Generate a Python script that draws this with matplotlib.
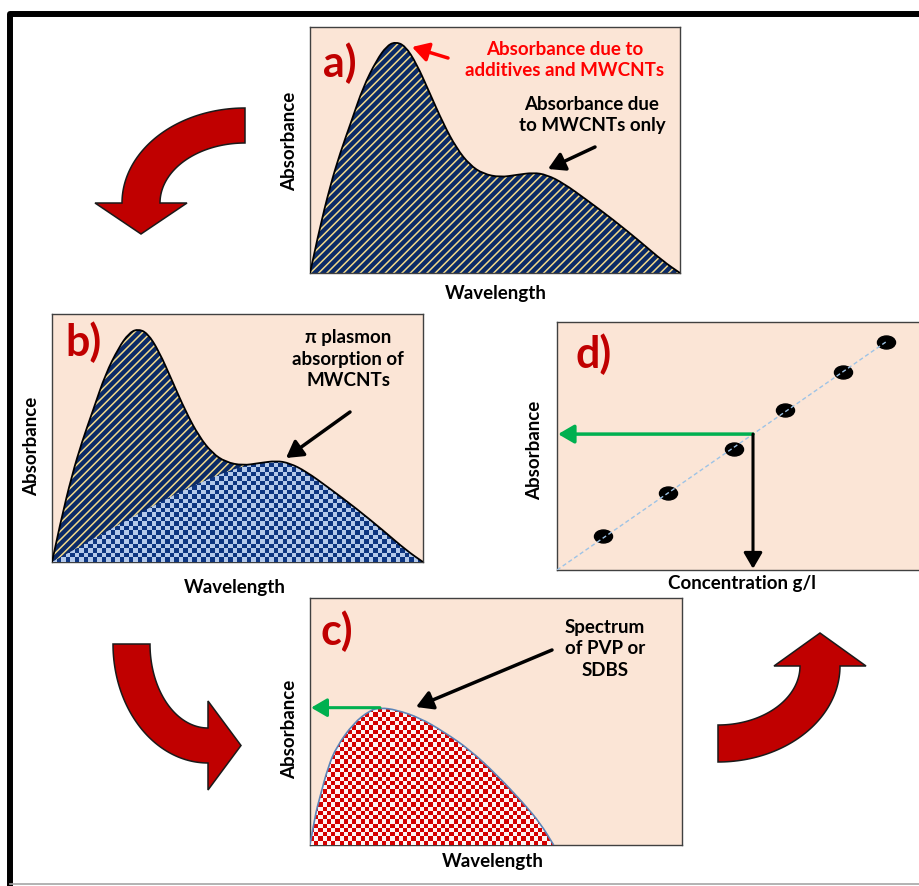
import numpy as np
import matplotlib
matplotlib.use('Agg')
import matplotlib.pyplot as plt
from matplotlib.colors import ListedColormap
from matplotlib.patches import Polygon, PathPatch
from matplotlib.path import Path

plt.rcParams['font.family'] = ['Lato', 'DejaVu Sans']
plt.rcParams['hatch.linewidth'] = 1.1

# spectrum of MWCNTs + additives (panels a, b)
wl_total = [0, 2.3, 5.4, 8.1, 11.3, 14.4, 18.0, 20.7, 23.0, 25.7, 28.8, 32.4, 36.0,
            39.6, 43.2, 46.8, 51.4, 55.9, 60.4, 64.0, 68.5, 74.8, 82.0, 89.2, 95.5, 100]
abs_total = [0, 16.2, 35.1, 48.6, 62.2, 75.7, 86.5, 92.2, 94.0, 92.4, 85.1, 73.0, 60.8,
             50.7, 43.9, 40.3, 38.9, 39.9, 40.8, 39.9, 36.5, 29.7, 21.6, 12.8, 4.7, 0]
# MWCNT-only part (panel b)
wl_cnt = [0, 13, 26.5, 40, 51, 55.9, 60.4, 64.0, 68.5, 74.8, 82.0, 89.2, 95.5, 100]
abs_cnt = [0, 10.8, 22.2, 32.3, 38.6, 39.9, 40.8, 39.9, 36.5, 29.7, 21.6, 12.8, 4.7, 0]
# additive spectrum (panel c)
wl_add = [0, 1.3, 2.7, 4.9, 7.2, 11.7, 16.1, 18.8, 23.3, 29.6, 35.9, 43.0, 50.2, 57.4, 61.9, 65.5]
abs_add = [0, 11.5, 19.6, 31.8, 39.9, 49.3, 54.5, 55.6, 54.7, 51.4, 45.9, 38.5, 28.4, 16.9, 8.8, 0]
# calibration (panel d)
conc = [12.7, 30.4, 48.6, 62.7, 78.7, 90.3]
abs_std = [13.7, 31.0, 48.8, 64.5, 79.8, 91.9]
sample_abs = 54.8

W, H = 919, 886
PEACH = '#FBE5D6'
NAVY = '#0B2A66'
DARKRED = '#C00000'
GREEN = '#00B050'

fig = plt.figure(figsize=(W / 100, H / 100), dpi=100)
bg = fig.add_axes([0, 0, 1, 1])
bg.set_xlim(0, W)
bg.set_ylim(H, 0)
bg.axis('off')

# outer frame
bg.plot([10, 10, 930], [895, 13.5, 13.5], color='k', lw=4.3, solid_joinstyle='round',
        solid_capstyle='butt')
bg.plot([10, 919], [884, 884], color='#a6a6a6', lw=1.2)


def panel(x0, y0, x1, y1):
    ax = fig.add_axes([x0 / W, 1 - y1 / H, (x1 - x0) / W, (y1 - y0) / H])
    ax.set_facecolor(PEACH)
    ax.set_xticks([])
    ax.set_yticks([])
    for s in ax.spines.values():
        s.set_color('#404040')
        s.set_linewidth(1)
    return ax


def smooth(x, y, closed=True):
    # quadratic spline through the read points, drawn by matplotlib's Path
    pts = np.column_stack([x, y]).astype(float)
    verts = [pts[0]]
    codes = [Path.MOVETO]
    for i in range(1, len(pts) - 1):
        verts += [pts[i], (pts[i] + pts[i + 1]) / 2]
        codes += [Path.CURVE3, Path.CURVE3]
    verts.append(pts[-1])
    codes.append(Path.LINETO)
    if closed:
        verts.append(pts[0])
        codes.append(Path.CLOSEPOLY)
    return Path(verts, codes)


def checker(ax, clip, cell, colors, z=3):
    bb = ax.get_position()
    nx = int(bb.width * W / cell)
    ny = int(bb.height * H / cell)
    grid = np.indices((ny, nx)).sum(axis=0) % 2
    im = ax.imshow(grid, cmap=ListedColormap(colors), extent=(0, 100, 0, 100),
                   aspect='auto', interpolation='nearest', origin='lower', zorder=z)
    im.set_clip_path(clip)


def stripes(ax, x, y):
    ax.add_patch(PathPatch(smooth(x, y), fc=NAVY, ec='none', zorder=2))
    ax.add_patch(PathPatch(smooth(x, y), fc='none', ec='#F2D98A', hatch='////', lw=0, zorder=2))


def outline(ax, x, y, color='k', lw=1.3):
    ax.add_patch(PathPatch(smooth(x, y, closed=False), fc='none', ec=color, lw=lw, zorder=4))


def finish(ax):
    ax.set_xlim(0, 100)
    ax.set_ylim(0, 100)


# ---- panel a
axa = panel(310, 27, 680, 273)
stripes(axa, wl_total, abs_total)
outline(axa, wl_total, abs_total)
finish(axa)

# ---- panel b
axb = panel(52, 314, 423, 562)
stripes(axb, wl_total, abs_total)
cb = PathPatch(smooth(wl_cnt, abs_cnt), fc='none', ec='none')
axb.add_patch(cb)
checker(axb, cb, 4.5, ['#B4C9EA', '#0D3580'])
outline(axb, wl_total, abs_total)
finish(axb)

# ---- panel c
axc = panel(310, 598, 682, 845)
cc = PathPatch(smooth(wl_add, abs_add), fc='none', ec='none')
axc.add_patch(cc)
checker(axc, cc, 4.2, ['#FFF4F4', '#D40000'])
outline(axc, wl_add, abs_add, color='#5B84B8', lw=1.2)
ipk = int(np.argmax(abs_add))
axc.annotate('', xy=(0.3, abs_add[ipk]), xytext=(wl_add[ipk], abs_add[ipk]),
             arrowprops=dict(arrowstyle='-|>,head_length=0.6,head_width=0.35',
                             color=GREEN, lw=2.2, mutation_scale=16, shrinkA=0, shrinkB=0),
             zorder=5)
finish(axc)

# ---- panel d
axd = panel(557, 322, 921, 570)
axd.spines['right'].set_visible(False)
cx = np.array(conc)
cy = np.array(abs_std)
slope = np.sum(cx * cy) / np.sum(cx * cx)
sample_conc = sample_abs / slope
uc = Path.unit_circle()
ell = Path(uc.vertices * [1, 0.72], uc.codes)
axd.plot(cx, cy, ls='none', marker=ell, ms=13, color='k', zorder=3)
xl = np.array([0, cx[-1]])
axd.plot(xl, xl * slope, ls=(0, (3, 2)), color='#9DC3E6', lw=1, zorder=4)
axd.annotate('', xy=(0.3, sample_abs), xytext=(sample_conc, sample_abs),
             arrowprops=dict(arrowstyle='-|>,head_length=0.6,head_width=0.35',
                             color=GREEN, lw=2.5, mutation_scale=16, shrinkA=0, shrinkB=0),
             zorder=5)
axd.annotate('', xy=(sample_conc, 0.5), xytext=(sample_conc, sample_abs),
             arrowprops=dict(arrowstyle='-|>,head_length=0.6,head_width=0.35',
                             color='k', lw=2.2, mutation_scale=16, shrinkA=0, shrinkB=0),
             zorder=5)
finish(axd)

# ---- overlay for arrows and texts (above the panels)
top = fig.add_axes([0, 0, 1, 1])
top.set_xlim(0, W)
top.set_ylim(H, 0)
top.axis('off')
top.patch.set_visible(False)


def pointer(x0, y0, x1, y1, color='k'):
    top.annotate('', xy=(x1, y1), xytext=(x0, y0),
                 arrowprops=dict(arrowstyle='-|>,head_length=0.55,head_width=0.32',
                                 color=color, lw=2.5, mutation_scale=18, shrinkA=0, shrinkB=0))


pointer(448, 58, 412, 47, color='#FF0000')
pointer(595, 147, 548, 169)
pointer(350, 412, 286, 458)
pointer(552, 650, 416, 707)


def bent_arrow(cx0, cy0, outer, inner, t0, t1, hw, hl):
    t = np.radians(np.linspace(t0, t1, 60))
    ox = cx0 + outer[0] * np.cos(t)
    oy = cy0 + outer[1] * np.sin(t)
    ix = cx0 + inner[0] * np.cos(t)
    iy = cy0 + inner[1] * np.sin(t)
    po = np.array([ox[-1], oy[-1]])
    pi = np.array([ix[-1], iy[-1]])
    n = (po - pi) / np.linalg.norm(po - pi)
    te = t[-1]
    d = np.array([-np.sin(te), np.cos(te)]) * np.sign(t1 - t0)
    mid = (po + pi) / 2
    head = [po + n * hw, mid + d * hl, pi - n * hw]
    pts = np.vstack([np.column_stack([ox, oy]), head, np.column_stack([ix, iy])[::-1]])
    top.add_patch(Polygon(pts, closed=True, fc=DARKRED, ec='#1a1a1a', lw=1.1))


bent_arrow(245, 203, (123, 95), (85, 60), -90, -180, 27, 31)
bent_arrow(208, 644, (95, 119), (58, 84), 180, 90, 27, 33)
bent_arrow(718, 666, (122, 96), (82, 59), 90, 0, 26, 33)


def txt(x, y, s, size=13.5, color='k', rot=0):
    top.text(x, y, s, ha='center', va='center', fontsize=size, fontweight='bold',
             color=color, rotation=rot, linespacing=1.35)


for lab, x, y in [('a)', 340, 63), ('b)', 83, 342), ('c)', 337, 631), ('d)', 594, 354)]:
    txt(x, y, lab, size=31, color=DARKRED)

txt(565, 60, 'Absorbance due to\nadditives and MWCNTs', color='#FF0000')
txt(592, 115, 'Absorbance due\nto MWCNTs only')
txt(348, 359, 'π plasmon\nabsorption of\nMWCNTs')
txt(605, 649, 'Spectrum\nof PVP or\nSDBS')

txt(290, 141, 'Absorbance', rot=90)
txt(32, 446, 'Absorbance', rot=90)
txt(290, 729, 'Absorbance', rot=90)
txt(535, 450, 'Absorbance', rot=90)
txt(496, 294, 'Wavelength')
txt(235, 588, 'Wavelength')
txt(493, 861, 'Wavelength')
txt(742, 584, 'Concentration g/l')

fig.savefig('out.png', dpi=100)
